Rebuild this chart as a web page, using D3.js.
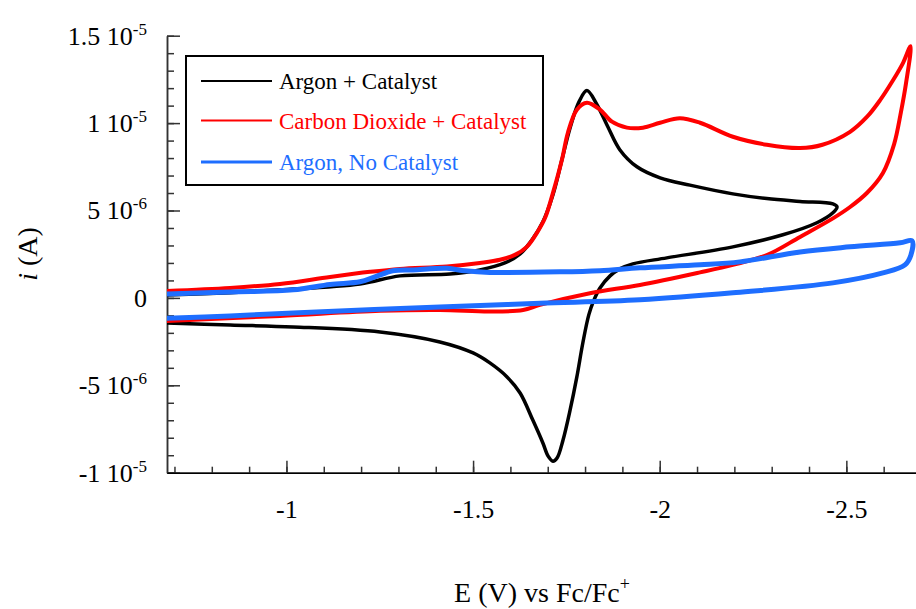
<!DOCTYPE html>
<html>
<head>
<meta charset="utf-8">
<script src="https://cdn.jsdelivr.net/npm/d3@7"></script>
<style>
  body { margin: 0; background: #fff; }
  svg { display: block; font-family: "Liberation Serif", "Times New Roman", serif; }
  .axis path, .axis line { stroke: #333; stroke-width: 1.5; }
  .axis text { font-size: 26px; fill: #000; font-family: "Liberation Serif", "Times New Roman", serif; }
  .curve { fill: none; stroke-linejoin: round; stroke-linecap: round; }
</style>
</head>
<body>
<svg id="chart" width="916" height="609"></svg>
<script>
// Cyclic voltammograms, potential in V vs Fc/Fc+, current in µA (axis labels show A)
const argonCatE = [-0.680,-0.849,-0.983,-1.197,-1.304,-1.438,-1.518,-1.585,-1.626,-1.658,-1.687,-1.714,-1.738,-1.760,-1.784,-1.805,-1.832,-1.861,-1.893,-1.939,-2.001,-2.081,-2.196,-2.287,-2.376,-2.464,-2.475,
                   -2.464,-2.421,-2.330,-2.196,-2.019,-1.928,-1.893,-1.867,-1.840,-1.824,-1.810,-1.794,-1.778,-1.760,-1.741,-1.725,-1.714,-1.701,-1.687,-1.660,-1.626,-1.591,-1.545,-1.500,-1.411,-1.251,-1.018,-0.849,-0.680];
const argonCatI = [0.17,0.30,0.46,0.80,1.26,1.37,1.60,2.00,2.52,3.32,4.35,5.90,7.90,9.74,11.23,11.86,11.05,9.79,8.48,7.50,6.87,6.45,5.95,5.68,5.52,5.38,5.21,
                   4.87,4.30,3.61,2.92,2.29,1.95,1.66,1.26,0.57,-0.11,-0.97,-2.58,-4.52,-6.41,-8.13,-9.16,-9.34,-9.05,-8.30,-6.99,-5.44,-4.52,-3.72,-3.15,-2.52,-1.95,-1.66,-1.55,-1.43];

const co2CatE = [-0.680,-0.849,-0.983,-1.117,-1.224,-1.304,-1.430,-1.518,-1.572,-1.612,-1.644,-1.671,-1.693,-1.714,-1.738,-1.754,-1.778,-1.805,-1.840,-1.872,-1.912,-1.955,-2.001,-2.054,-2.108,-2.196,-2.287,-2.376,-2.436,-2.510,-2.555,-2.590,-2.625,-2.652,-2.672,
                 -2.660,-2.646,-2.628,-2.598,-2.555,-2.510,-2.464,-2.376,-2.287,-2.196,-2.108,-1.947,-1.813,-1.679,-1.634,-1.545,-1.411,-1.251,-0.983,-0.680];
const co2CatI = [0.40,0.57,0.80,1.20,1.49,1.66,1.80,2.00,2.18,2.46,2.92,3.72,4.58,6.01,7.90,9.45,10.77,11.17,10.77,10.08,9.74,9.74,10.02,10.28,10.02,9.22,8.76,8.57,8.76,9.50,10.35,11.30,12.45,13.45,14.40,
                 12.30,10.60,8.80,7.15,6.00,5.20,4.55,3.49,2.45,1.89,1.46,0.74,0.27,-0.40,-0.69,-0.78,-0.69,-0.74,-1.03,-1.32];

const argonE = [-0.680,-0.849,-1.018,-1.117,-1.197,-1.237,-1.285,-1.339,-1.430,-1.478,-1.545,-1.733,-1.840,-1.947,-2.108,-2.215,-2.376,-2.510,-2.644,-2.676,
                -2.673,-2.657,-2.598,-2.464,-2.196,-1.947,-1.679,-1.411,-1.018,-0.849,-0.680];
const argonI = [0.23,0.34,0.46,0.77,0.92,1.20,1.55,1.60,1.69,1.55,1.46,1.49,1.56,1.72,1.89,2.06,2.63,2.92,3.15,3.26,
                2.46,1.89,1.43,0.86,0.29,-0.11,-0.31,-0.52,-0.86,-1.03,-1.17];

const seriesNames  = ["Argon + Catalyst", "Carbon Dioxide + Catalyst", "Argon, No Catalyst"];
const seriesColors = ["#000000", "#ff0000", "#1e6eff"];
const seriesWidths = [3.5, 4, 5];

const xTicks = [-1, -1.5, -2, -2.5];
const yTicks = [-10, -5, 0, 5, 10, 15];
const yTickMant = ["-1 10", "-5 10", "0", "5 10", "1 10", "1.5 10"];
const yTickExp  = ["-5", "-6", "", "-6", "-5", "-5"];

const svg = d3.select("#chart");
const x = d3.scaleLinear().domain([-0.68, -2.7]).range([167, 921]);
const y = d3.scaleLinear().domain([-10, 15]).range([472.7, 35.7]);

svg.append("defs").append("clipPath").attr("id", "plot")
  .append("rect").attr("x", 167).attr("y", 30).attr("width", 760).attr("height", 443);

// minor ticks
svg.append("g").attr("class", "axis").attr("transform", "translate(167,0)")
  .call(d3.axisLeft(y).tickValues(d3.range(-10, 16, 1)).tickSize(-7).tickSizeOuter(0).tickFormat(""));
svg.append("g").attr("class", "axis").attr("transform", "translate(0,472.7)")
  .call(d3.axisBottom(x).tickValues(d3.range(-0.7, -2.75, -0.1)).tickSize(-6).tickSizeOuter(0).tickFormat(""));

// major y ticks with "m 10^e" labels
const yAxis = svg.append("g").attr("class", "axis").attr("transform", "translate(167,0)")
  .call(d3.axisLeft(y).tickValues(yTicks).tickSize(-13).tickSizeOuter(0).tickPadding(20));
yAxis.selectAll(".tick text").each(function(d) {
  const k = yTicks.indexOf(d), t = d3.select(this).text(null);
  t.append("tspan").text(yTickMant[k]);
  if (yTickExp[k]) t.append("tspan").attr("dy", -10).style("font-size", "17px").text(yTickExp[k]);
});

svg.append("g").attr("class", "axis").attr("transform", "translate(0,472.7)")
  .call(d3.axisBottom(x).tickValues(xTicks).tickSize(-12).tickSizeOuter(0).tickPadding(27).tickFormat(d => String(d)))
  .select(".domain").style("stroke", "#000");

// curves
const line = d3.line().x(d => x(d[0])).y(d => y(d[1])).curve(d3.curveCatmullRom.alpha(0.5));
const series = [
  d3.zip(argonCatE, argonCatI),
  d3.zip(co2CatE, co2CatI),
  d3.zip(argonE, argonI)
];
svg.append("g").attr("clip-path", "url(#plot)").selectAll("path").data(series).join("path")
  .attr("class", "curve")
  .attr("d", line)
  .attr("stroke", (d, k) => seriesColors[k])
  .attr("stroke-width", (d, k) => seriesWidths[k]);

// legend
const lg = svg.append("g");
lg.append("rect").attr("x", 186).attr("y", 56).attr("width", 357).attr("height", 129)
  .attr("fill", "#fff").attr("stroke", "#000").attr("stroke-width", 2);
const legY = [81, 120.5, 162];
seriesNames.forEach((name, k) => {
  lg.append("line").attr("x1", 201).attr("x2", 272).attr("y1", legY[k]).attr("y2", legY[k])
    .attr("stroke", seriesColors[k]).attr("stroke-width", k === 2 ? 3 : 2);
  lg.append("text").attr("x", 279).attr("y", legY[k] + 8).attr("fill", seriesColors[k])
    .style("font-size", "23px").text(name);
});

// axis titles
const xt = svg.append("text").attr("x", 542).attr("y", 602).attr("text-anchor", "middle").style("font-size", "28px");
xt.append("tspan").text("E (V) vs Fc/Fc");
xt.append("tspan").attr("dy", -12).style("font-size", "18px").text("+");

const yt = svg.append("text").attr("transform", "translate(37,254) rotate(-90)").attr("text-anchor", "middle").style("font-size", "28px");
yt.append("tspan").style("font-style", "italic").text("i");
yt.append("tspan").text(" (A)");
</script>
</body>
</html>
